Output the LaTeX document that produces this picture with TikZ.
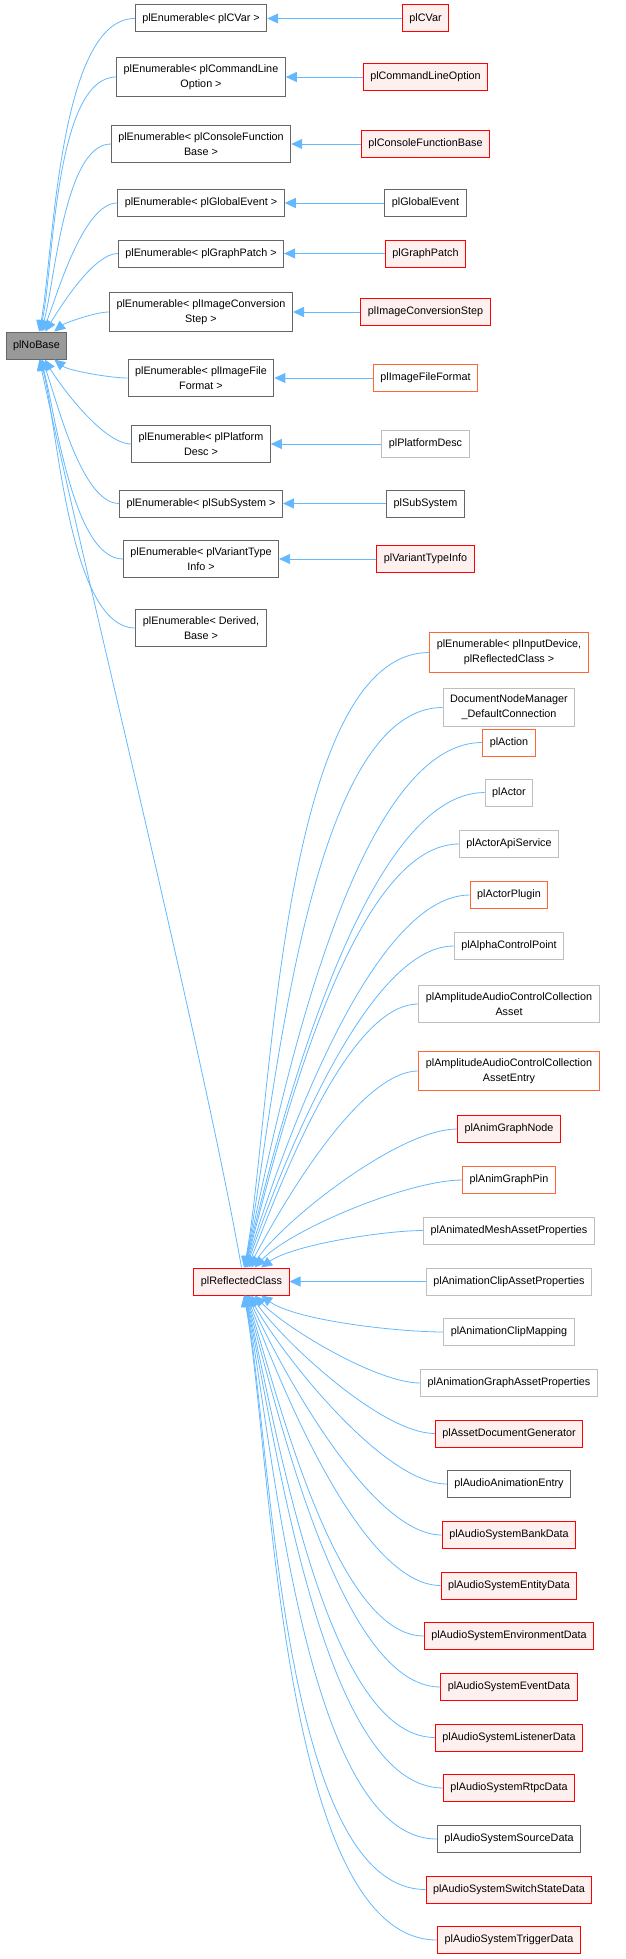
\documentclass[tikz,border=0pt]{standalone}
\usepackage{fontspec}
\setmainfont{Liberation Sans}
\usetikzlibrary{arrows.meta,positioning}
\definecolor{clsgray}{HTML}{666666}
\definecolor{clslight}{HTML}{BFBFBF}
\definecolor{clsred}{HTML}{FF0000}
\definecolor{clsredfill}{HTML}{FFF0F0}
\definecolor{clsorange}{HTML}{FF6633}
\definecolor{basefill}{HTML}{999999}
\definecolor{edgeblue}{HTML}{63B8FF}
\tikzset{
  cls/.style={draw=clsgray, fill=white, line width=1pt, minimum height=27pt,
    inner xsep=7pt, inner ysep=7pt, align=center,
    font=\fontsize{10.8}{15}\selectfont},
  redcls/.style={cls, draw=clsred, fill=clsredfill},
  orgcls/.style={cls, draw=clsorange},
  ltcls/.style={cls, draw=clslight},
  basecls/.style={cls, fill=basefill},
  inh/.style={draw=edgeblue, line width=0.8pt, -{Triangle[length=11pt,width=10pt,fill=edgeblue]}}
}
\begin{document}
\begin{tikzpicture}[x=1pt,y=1pt]
\useasboundingbox (0,0) rectangle (625,-1959);

\node[basecls] (base) at (36.5,-345.5) {plNoBase};
\node[redcls] (refl) at (241.5,-1281.5) {plReflectedClass};

% enumerables and their derived classes
\foreach \n/\y/\etext/\ctext/\cst in {
  cvar/18.5/{plEnumerable< plCVar >}/plCVar/redcls,
  cmd/77/{plEnumerable< plCommandLine\\Option >}/plCommandLineOption/redcls,
  con/144/{plEnumerable< plConsoleFunction\\Base >}/plConsoleFunctionBase/redcls,
  glob/203/{plEnumerable< plGlobalEvent >}/plGlobalEvent/cls,
  graph/253.5/{plEnumerable< plGraphPatch >}/plGraphPatch/redcls,
  conv/312/{plEnumerable< plImageConversion\\Step >}/plImageConversionStep/redcls,
  file/378/{plEnumerable< plImageFile\\Format >}/plImageFileFormat/orgcls,
  plat/444/{plEnumerable< plPlatform\\Desc >}/plPlatformDesc/ltcls,
  sub/503.5/{plEnumerable< plSubSystem >}/plSubSystem/cls,
  var/559/{plEnumerable< plVariantType\\Info >}/plVariantTypeInfo/redcls}{
  \node[cls] (e\n) at (201,-\y) {\etext};
  \node[\cst] (c\n) at (425.5,-\y) {\ctext};
  \draw[inh] (c\n.west) -- (e\n.east);
  \pgfmathsetmacro\a{atan2(345.5-\y,120-36.5)}
  \pgfmathsetmacro\b{\a+0.25*(90*sign(\a)-\a)}
  \draw[inh] (e\n.west) to[out=180,in=\b,looseness=0.6] (base);
}
\node[cls] (ederived) at (201,-628) {plEnumerable< Derived,\\Base >};
\draw[inh] (ederived.west) to[out=180,in=-75,looseness=0.6] (base);
\draw[inh] (refl.north) to[out=100,in=-78,looseness=0.6] (base);

% classes derived from plReflectedClass
\foreach \n/\y/\ctext/\cst in {
  input/652.5/{plEnumerable< plInputDevice,\\plReflectedClass >}/orgcls,
  docnode/707.5/{DocumentNodeManager\\\_DefaultConnection}/ltcls,
  action/742.5/plAction/orgcls,
  actor/792.5/plActor/ltcls,
  actorapi/844/plActorApiService/ltcls,
  actorplug/895/plActorPlugin/orgcls,
  alpha/946/plAlphaControlPoint/ltcls,
  ampasset/1004/{plAmplitudeAudioControlCollection\\Asset}/ltcls,
  ampentry/1071/{plAmplitudeAudioControlCollection\\AssetEntry}/orgcls,
  agnode/1129/plAnimGraphNode/redcls,
  agpin/1180/plAnimGraphPin/orgcls,
  mesh/1230.5/plAnimatedMeshAssetProperties/ltcls,
  clipasset/1281.5/plAnimationClipAssetProperties/ltcls,
  clipmap/1332/plAnimationClipMapping/ltcls,
  graphasset/1383/plAnimationGraphAssetProperties/ltcls,
  docgen/1433.5/plAssetDocumentGenerator/redcls,
  animentry/1484/plAudioAnimationEntry/cls,
  bank/1535/plAudioSystemBankData/redcls,
  entity/1585.5/plAudioSystemEntityData/redcls,
  env/1636/plAudioSystemEnvironmentData/redcls,
  event/1687/plAudioSystemEventData/redcls,
  listener/1737.5/plAudioSystemListenerData/redcls,
  rtpc/1788/plAudioSystemRtpcData/redcls,
  source/1839/plAudioSystemSourceData/cls,
  switch/1889.5/plAudioSystemSwitchStateData/redcls,
  trigger/1940/plAudioSystemTriggerData/redcls}{
  \node[\cst] (r\n) at (509,-\y) {\ctext};
  \pgfmathsetmacro\a{atan2(1281.5-\y,400-241.5)}
  \pgfmathsetmacro\b{\a+0.25*(90*sign(\a)-\a)}
  \draw[inh] (r\n.west) to[out=180,in=\b,looseness=0.6] (refl);
}
\end{tikzpicture}
\end{document}
